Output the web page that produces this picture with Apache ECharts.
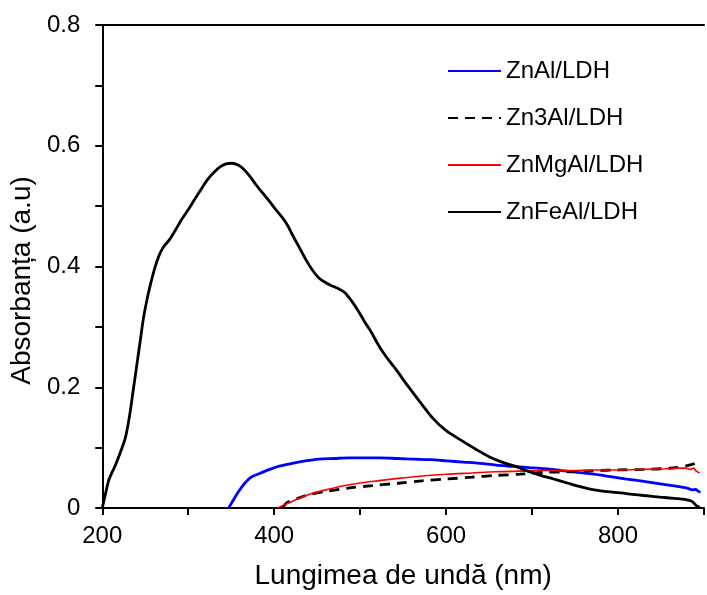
<!DOCTYPE html>
<html>
<head>
<meta charset="utf-8">
<script src="https://cdn.jsdelivr.net/npm/echarts@6/dist/echarts.min.js"></script>
<style>
  html, body { margin: 0; padding: 0; background: #fff; }
  #chart { width: 707px; height: 595px; }
</style>
</head>
<body>
<div id="chart"></div>
<script>
// UV-Vis absorbance spectra of the LDH samples: [wavelength (nm), absorbance (a.u.)]
const seriesNames = ['ZnAl/LDH', 'Zn3Al/LDH', 'ZnMgAl/LDH', 'ZnFeAl/LDH'];

const znAl = [
  [347,0],[352,0.012],[358,0.026],[364,0.038],[372,0.05],[381,0.056],[391,0.062],[405,0.069],
  [421,0.074],[436,0.078],[452,0.081],[470,0.082],[486,0.083],[505,0.083],[524,0.083],[543,0.082],
  [562,0.081],[582,0.08],[601,0.078],[620,0.076],[639,0.074],[658,0.071],[677,0.069],[696,0.067],
  [715,0.065],[734,0.062],[753,0.059],[772,0.056],[791,0.052],[810,0.048],[830,0.044],[849,0.04],
  [868,0.036],[880,0.033],[887,0.03],[890,0.031],[893,0.028],[896,0.026]
];

const zn3Al = [
  [410,0],[414,0.008],[426,0.015],[440,0.022],[462,0.028],[486,0.033],[514,0.037],[544,0.041],
  [572,0.045],[601,0.048],[630,0.051],[658,0.054],[686,0.056],[715,0.059],[744,0.06],[772,0.062],
  [801,0.063],[830,0.064],[850,0.065],[868,0.067],[880,0.07],[888,0.073],[895,0.077]
];

const znMgAl = [
  [404,0],[410,0.004],[418,0.009],[429,0.016],[444,0.024],[460,0.03],[478,0.036],[498,0.041],
  [520,0.045],[544,0.049],[572,0.053],[601,0.056],[630,0.058],[658,0.06],[686,0.061],[715,0.062],
  [744,0.062],[772,0.063],[801,0.063],[830,0.064],[855,0.065],[870,0.066],[879,0.066],[884,0.064],
  [888,0.066],[891,0.061],[895,0.058]
];

const znFeAl = [
  [200,0],[204,0.025],[208,0.048],[215,0.07],[221,0.092],[227,0.117],[232,0.155],[236,0.195],
  [240,0.235],[244,0.275],[248,0.315],[252,0.345],[256,0.37],[261,0.397],[266,0.418],[271,0.432],
  [278,0.444],[285,0.46],[292,0.477],[300,0.494],[307,0.51],[315,0.528],[322,0.543],[330,0.556],
  [337,0.565],[344,0.57],[351,0.571],[358,0.568],[364,0.562],[372,0.549],[379,0.535],[387,0.521],
  [395,0.507],[402,0.494],[410,0.48],[416,0.467],[421,0.453],[429,0.432],[437,0.411],[445,0.393],
  [452,0.381],[460,0.373],[467,0.368],[475,0.363],[482,0.357],[490,0.343],[498,0.326],[505,0.309],
  [513,0.291],[520,0.273],[528,0.255],[536,0.24],[544,0.225],[555,0.203],[570,0.175],[585,0.148],
  [600,0.128],[620,0.11],[635,0.097],[650,0.085],[665,0.076],[681,0.069],[695,0.061],[708,0.055],
  [725,0.048],[742,0.041],[757,0.035],[772,0.03],[788,0.027],[803,0.025],[820,0.022],[835,0.02],
  [849,0.018],[865,0.016],[879,0.014],[886,0.011],[891,0.004],[895,0.001]
];

const xTicks = { min: 200, max: 900, step: 100, labelStep: 200 };
const yTicks = { min: 0, max: 0.8, step: 0.1, labelStep: 0.2 };

const font = 'Arial, "Liberation Sans", sans-serif';
const chart = echarts.init(document.getElementById('chart'), null, { renderer: 'canvas' });

const axisCommon = {
  axisLine: { show: true, lineStyle: { color: '#000', width: 2 } },
  axisTick: { show: true, inside: false, length: 7, lineStyle: { color: '#000', width: 2 } },
  splitLine: { show: false },
  nameTextStyle: { color: '#000', fontSize: 28, fontFamily: font },
  axisLabel: { color: '#000', fontSize: 24, fontFamily: font, showMinLabel: true, showMaxLabel: true }
};

chart.setOption({
  backgroundColor: '#fff',
  animation: false,
  grid: { left: 100, top: 25, width: 611, height: 485, containLabel: false },
  legend: {
    orient: 'vertical',
    left: 447,
    top: 59,
    padding: 0,
    itemWidth: 53,
    itemHeight: 14,
    itemGap: 23,
    itemStyle: { opacity: 0 },
    textStyle: { color: '#000', fontSize: 24, fontFamily: font },
    data: seriesNames
  },
  xAxis: [{
    ...axisCommon,
    type: 'value',
    min: xTicks.min, max: xTicks.max, interval: xTicks.step,
    name: 'Lungimea de undă (nm)',
    nameLocation: 'middle',
    nameGap: 54,
    axisLabel: {
      ...axisCommon.axisLabel,
      margin: 16,
      formatter: v => (v % xTicks.labelStep === 0 && v < xTicks.max) ? String(v) : ''
    }
  }, {
    type: 'value', position: 'top',
    min: xTicks.min, max: xTicks.max,
    axisLine: { show: true, lineStyle: { color: '#000', width: 2 } },
    axisTick: { show: false }, axisLabel: { show: false }, splitLine: { show: false }
  }],
  yAxis: {
    ...axisCommon,
    type: 'value',
    min: yTicks.min, max: yTicks.max, interval: yTicks.step,
    name: 'Absorbanța (a.u)',
    nameLocation: 'middle',
    nameGap: 56,
    nameTextStyle: { ...axisCommon.nameTextStyle, padding: [0, 28, 0, 0] },
    axisLabel: {
      ...axisCommon.axisLabel,
      margin: 22,
      formatter: v => {
        const k = Math.round(v * 10);
        return k % 2 === 0 ? (k === 0 ? '0' : (k / 10).toFixed(1)) : '';
      }
    }
  },
  series: [
    { name: seriesNames[0], type: 'line', data: znAl, symbol: 'none', smooth: 0.3,
      lineStyle: { color: '#0000ff', width: 2.8 }, itemStyle: { color: '#0000ff' } },
    { name: seriesNames[1], type: 'line', data: zn3Al, symbol: 'none', smooth: 0.3,
      lineStyle: { color: '#000', width: 2.8, type: [10, 7] }, itemStyle: { color: '#000' } },
    { name: seriesNames[2], type: 'line', data: znMgAl, symbol: 'none', smooth: 0.3,
      lineStyle: { color: '#ff0000', width: 1.6 }, itemStyle: { color: '#ff0000' } },
    { name: seriesNames[3], type: 'line', data: znFeAl, symbol: 'none', smooth: 0.3,
      lineStyle: { color: '#000', width: 2.8 }, itemStyle: { color: '#000' } }
  ]
});
</script>
</body>
</html>
